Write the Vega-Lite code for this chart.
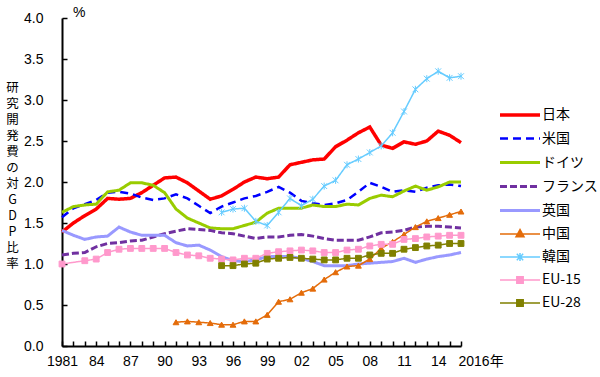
{
"$schema": "https://vega.github.io/schema/vega-lite/v6.json",
"width": 399, "height": 328,
"autosize": {"type": "none"},
"padding": {"left": 62, "top": 18, "right": 139, "bottom": 31},
"background": "white",
"config": {"view": {"stroke": null}, "font": "Liberation Sans"},
"title": {"text": "%", "anchor": "start", "frame": "group", "dx": 11, "dy": 20, "offset": 0, "fontSize": 14, "fontWeight": "normal", "font": "Liberation Sans", "baseline": "alphabetic", "color": "black"},
"datasets": {"rd": [
{"country":"日本","year":1981,"value":1.39},{"country":"日本","year":1982,"value":1.50},{"country":"日本","year":1983,"value":1.59},{"country":"日本","year":1984,"value":1.67},{"country":"日本","year":1985,"value":1.80},{"country":"日本","year":1986,"value":1.79},{"country":"日本","year":1987,"value":1.80},{"country":"日本","year":1988,"value":1.87},{"country":"日本","year":1989,"value":1.96},{"country":"日本","year":1990,"value":2.05},{"country":"日本","year":1991,"value":2.06},{"country":"日本","year":1992,"value":1.99},{"country":"日本","year":1993,"value":1.89},{"country":"日本","year":1994,"value":1.79},{"country":"日本","year":1995,"value":1.83},{"country":"日本","year":1996,"value":1.91},{"country":"日本","year":1997,"value":2.00},{"country":"日本","year":1998,"value":2.06},{"country":"日本","year":1999,"value":2.04},{"country":"日本","year":2000,"value":2.06},{"country":"日本","year":2001,"value":2.21},{"country":"日本","year":2002,"value":2.24},{"country":"日本","year":2003,"value":2.27},{"country":"日本","year":2004,"value":2.28},{"country":"日本","year":2005,"value":2.43},{"country":"日本","year":2006,"value":2.51},{"country":"日本","year":2007,"value":2.60},{"country":"日本","year":2008,"value":2.67},{"country":"日本","year":2009,"value":2.45},{"country":"日本","year":2010,"value":2.41},{"country":"日本","year":2011,"value":2.49},{"country":"日本","year":2012,"value":2.46},{"country":"日本","year":2013,"value":2.50},{"country":"日本","year":2014,"value":2.62},{"country":"日本","year":2015,"value":2.57},{"country":"日本","year":2016,"value":2.48},
{"country":"米国","year":1981,"value":1.57},{"country":"米国","year":1982,"value":1.68},{"country":"米国","year":1983,"value":1.73},{"country":"米国","year":1984,"value":1.78},{"country":"米国","year":1985,"value":1.87},{"country":"米国","year":1986,"value":1.88},{"country":"米国","year":1987,"value":1.86},{"country":"米国","year":1988,"value":1.81},{"country":"米国","year":1989,"value":1.78},{"country":"米国","year":1990,"value":1.80},{"country":"米国","year":1991,"value":1.85},{"country":"米国","year":1992,"value":1.80},{"country":"米国","year":1993,"value":1.71},{"country":"米国","year":1994,"value":1.62},{"country":"米国","year":1995,"value":1.70},{"country":"米国","year":1996,"value":1.75},{"country":"米国","year":1997,"value":1.80},{"country":"米国","year":1998,"value":1.83},{"country":"米国","year":1999,"value":1.88},{"country":"米国","year":2000,"value":1.94},{"country":"米国","year":2001,"value":1.87},{"country":"米国","year":2002,"value":1.77},{"country":"米国","year":2003,"value":1.74},{"country":"米国","year":2004,"value":1.72},{"country":"米国","year":2005,"value":1.74},{"country":"米国","year":2006,"value":1.78},{"country":"米国","year":2007,"value":1.88},{"country":"米国","year":2008,"value":1.99},{"country":"米国","year":2009,"value":1.94},{"country":"米国","year":2010,"value":1.88},{"country":"米国","year":2011,"value":1.90},{"country":"米国","year":2012,"value":1.88},{"country":"米国","year":2013,"value":1.93},{"country":"米国","year":2014,"value":1.96},{"country":"米国","year":2015,"value":1.97},{"country":"米国","year":2016,"value":1.95},
{"country":"ドイツ","year":1981,"value":1.63},{"country":"ドイツ","year":1982,"value":1.70},{"country":"ドイツ","year":1983,"value":1.72},{"country":"ドイツ","year":1984,"value":1.73},{"country":"ドイツ","year":1985,"value":1.88},{"country":"ドイツ","year":1986,"value":1.90},{"country":"ドイツ","year":1987,"value":1.99},{"country":"ドイツ","year":1988,"value":1.99},{"country":"ドイツ","year":1989,"value":1.96},{"country":"ドイツ","year":1990,"value":1.87},{"country":"ドイツ","year":1991,"value":1.67},{"country":"ドイツ","year":1992,"value":1.56},{"country":"ドイツ","year":1993,"value":1.50},{"country":"ドイツ","year":1994,"value":1.44},{"country":"ドイツ","year":1995,"value":1.43},{"country":"ドイツ","year":1996,"value":1.43},{"country":"ドイツ","year":1997,"value":1.47},{"country":"ドイツ","year":1998,"value":1.51},{"country":"ドイツ","year":1999,"value":1.62},{"country":"ドイツ","year":2000,"value":1.68},{"country":"ドイツ","year":2001,"value":1.68},{"country":"ドイツ","year":2002,"value":1.68},{"country":"ドイツ","year":2003,"value":1.72},{"country":"ドイツ","year":2004,"value":1.70},{"country":"ドイツ","year":2005,"value":1.70},{"country":"ドイツ","year":2006,"value":1.73},{"country":"ドイツ","year":2007,"value":1.72},{"country":"ドイツ","year":2008,"value":1.80},{"country":"ドイツ","year":2009,"value":1.84},{"country":"ドイツ","year":2010,"value":1.82},{"country":"ドイツ","year":2011,"value":1.89},{"country":"ドイツ","year":2012,"value":1.95},{"country":"ドイツ","year":2013,"value":1.90},{"country":"ドイツ","year":2014,"value":1.94},{"country":"ドイツ","year":2015,"value":2.00},{"country":"ドイツ","year":2016,"value":2.00},
{"country":"フランス","year":1981,"value":1.11},{"country":"フランス","year":1982,"value":1.13},{"country":"フランス","year":1983,"value":1.14},{"country":"フランス","year":1984,"value":1.21},{"country":"フランス","year":1985,"value":1.25},{"country":"フランス","year":1986,"value":1.26},{"country":"フランス","year":1987,"value":1.28},{"country":"フランス","year":1988,"value":1.29},{"country":"フランス","year":1989,"value":1.33},{"country":"フランス","year":1990,"value":1.37},{"country":"フランス","year":1991,"value":1.40},{"country":"フランス","year":1992,"value":1.43},{"country":"フランス","year":1993,"value":1.42},{"country":"フランス","year":1994,"value":1.41},{"country":"フランス","year":1995,"value":1.38},{"country":"フランス","year":1996,"value":1.37},{"country":"フランス","year":1997,"value":1.34},{"country":"フランス","year":1998,"value":1.31},{"country":"フランス","year":1999,"value":1.33},{"country":"フランス","year":2000,"value":1.33},{"country":"フランス","year":2001,"value":1.35},{"country":"フランス","year":2002,"value":1.36},{"country":"フランス","year":2003,"value":1.34},{"country":"フランス","year":2004,"value":1.31},{"country":"フランス","year":2005,"value":1.29},{"country":"フランス","year":2006,"value":1.29},{"country":"フランス","year":2007,"value":1.29},{"country":"フランス","year":2008,"value":1.33},{"country":"フランス","year":2009,"value":1.38},{"country":"フランス","year":2010,"value":1.39},{"country":"フランス","year":2011,"value":1.41},{"country":"フランス","year":2012,"value":1.45},{"country":"フランス","year":2013,"value":1.46},{"country":"フランス","year":2014,"value":1.46},{"country":"フランス","year":2015,"value":1.45},{"country":"フランス","year":2016,"value":1.44},
{"country":"英国","year":1981,"value":1.41},{"country":"英国","year":1982,"value":1.35},{"country":"英国","year":1983,"value":1.30},{"country":"英国","year":1984,"value":1.33},{"country":"英国","year":1985,"value":1.34},{"country":"英国","year":1986,"value":1.45},{"country":"英国","year":1987,"value":1.39},{"country":"英国","year":1988,"value":1.35},{"country":"英国","year":1989,"value":1.35},{"country":"英国","year":1990,"value":1.35},{"country":"英国","year":1991,"value":1.26},{"country":"英国","year":1992,"value":1.22},{"country":"英国","year":1993,"value":1.23},{"country":"英国","year":1994,"value":1.17},{"country":"英国","year":1995,"value":1.09},{"country":"英国","year":1996,"value":1.04},{"country":"英国","year":1997,"value":1.03},{"country":"英国","year":1998,"value":1.05},{"country":"英国","year":1999,"value":1.09},{"country":"英国","year":2000,"value":1.09},{"country":"英国","year":2001,"value":1.09},{"country":"英国","year":2002,"value":1.07},{"country":"英国","year":2003,"value":1.03},{"country":"英国","year":2004,"value":0.98},{"country":"英国","year":2005,"value":0.98},{"country":"英国","year":2006,"value":0.98},{"country":"英国","year":2007,"value":1.00},{"country":"英国","year":2008,"value":1.01},{"country":"英国","year":2009,"value":1.02},{"country":"英国","year":2010,"value":1.03},{"country":"英国","year":2011,"value":1.07},{"country":"英国","year":2012,"value":1.02},{"country":"英国","year":2013,"value":1.06},{"country":"英国","year":2014,"value":1.09},{"country":"英国","year":2015,"value":1.11},{"country":"英国","year":2016,"value":1.14},
{"country":"中国","year":1991,"value":0.29},{"country":"中国","year":1992,"value":0.30},{"country":"中国","year":1993,"value":0.29},{"country":"中国","year":1994,"value":0.28},{"country":"中国","year":1995,"value":0.26},{"country":"中国","year":1996,"value":0.26},{"country":"中国","year":1997,"value":0.30},{"country":"中国","year":1998,"value":0.30},{"country":"中国","year":1999,"value":0.38},{"country":"中国","year":2000,"value":0.54},{"country":"中国","year":2001,"value":0.57},{"country":"中国","year":2002,"value":0.65},{"country":"中国","year":2003,"value":0.70},{"country":"中国","year":2004,"value":0.81},{"country":"中国","year":2005,"value":0.90},{"country":"中国","year":2006,"value":0.97},{"country":"中国","year":2007,"value":0.98},{"country":"中国","year":2008,"value":1.06},{"country":"中国","year":2009,"value":1.19},{"country":"中国","year":2010,"value":1.27},{"country":"中国","year":2011,"value":1.36},{"country":"中国","year":2012,"value":1.45},{"country":"中国","year":2013,"value":1.52},{"country":"中国","year":2014,"value":1.56},{"country":"中国","year":2015,"value":1.60},{"country":"中国","year":2016,"value":1.64},
{"country":"韓国","year":1995,"value":1.63},{"country":"韓国","year":1996,"value":1.67},{"country":"韓国","year":1997,"value":1.68},{"country":"韓国","year":1998,"value":1.52},{"country":"韓国","year":1999,"value":1.47},{"country":"韓国","year":2000,"value":1.63},{"country":"韓国","year":2001,"value":1.80},{"country":"韓国","year":2002,"value":1.71},{"country":"韓国","year":2003,"value":1.79},{"country":"韓国","year":2004,"value":1.95},{"country":"韓国","year":2005,"value":2.02},{"country":"韓国","year":2006,"value":2.21},{"country":"韓国","year":2007,"value":2.28},{"country":"韓国","year":2008,"value":2.36},{"country":"韓国","year":2009,"value":2.44},{"country":"韓国","year":2010,"value":2.60},{"country":"韓国","year":2011,"value":2.86},{"country":"韓国","year":2012,"value":3.13},{"country":"韓国","year":2013,"value":3.26},{"country":"韓国","year":2014,"value":3.35},{"country":"韓国","year":2015,"value":3.27},{"country":"韓国","year":2016,"value":3.29},
{"country":"EU-15","year":1981,"value":1.00},{"country":"EU-15","year":1983,"value":1.04},{"country":"EU-15","year":1984,"value":1.06},{"country":"EU-15","year":1985,"value":1.14},{"country":"EU-15","year":1986,"value":1.18},{"country":"EU-15","year":1987,"value":1.19},{"country":"EU-15","year":1988,"value":1.19},{"country":"EU-15","year":1989,"value":1.19},{"country":"EU-15","year":1990,"value":1.19},{"country":"EU-15","year":1991,"value":1.14},{"country":"EU-15","year":1992,"value":1.11},{"country":"EU-15","year":1993,"value":1.10},{"country":"EU-15","year":1994,"value":1.07},{"country":"EU-15","year":1995,"value":1.06},{"country":"EU-15","year":1996,"value":1.05},{"country":"EU-15","year":1997,"value":1.07},{"country":"EU-15","year":1998,"value":1.07},{"country":"EU-15","year":1999,"value":1.13},{"country":"EU-15","year":2000,"value":1.15},{"country":"EU-15","year":2001,"value":1.16},{"country":"EU-15","year":2002,"value":1.17},{"country":"EU-15","year":2003,"value":1.16},{"country":"EU-15","year":2004,"value":1.14},{"country":"EU-15","year":2005,"value":1.14},{"country":"EU-15","year":2006,"value":1.17},{"country":"EU-15","year":2007,"value":1.18},{"country":"EU-15","year":2008,"value":1.22},{"country":"EU-15","year":2009,"value":1.24},{"country":"EU-15","year":2010,"value":1.24},{"country":"EU-15","year":2011,"value":1.30},{"country":"EU-15","year":2012,"value":1.31},{"country":"EU-15","year":2013,"value":1.33},{"country":"EU-15","year":2014,"value":1.34},{"country":"EU-15","year":2015,"value":1.35},{"country":"EU-15","year":2016,"value":1.35},
{"country":"EU-28","year":1995,"value":0.98},{"country":"EU-28","year":1996,"value":0.98},{"country":"EU-28","year":1997,"value":1.00},{"country":"EU-28","year":1998,"value":1.01},{"country":"EU-28","year":1999,"value":1.06},{"country":"EU-28","year":2000,"value":1.07},{"country":"EU-28","year":2001,"value":1.08},{"country":"EU-28","year":2002,"value":1.07},{"country":"EU-28","year":2003,"value":1.06},{"country":"EU-28","year":2004,"value":1.05},{"country":"EU-28","year":2005,"value":1.05},{"country":"EU-28","year":2006,"value":1.07},{"country":"EU-28","year":2007,"value":1.07},{"country":"EU-28","year":2008,"value":1.11},{"country":"EU-28","year":2009,"value":1.13},{"country":"EU-28","year":2010,"value":1.13},{"country":"EU-28","year":2011,"value":1.18},{"country":"EU-28","year":2012,"value":1.20},{"country":"EU-28","year":2013,"value":1.22},{"country":"EU-28","year":2014,"value":1.23},{"country":"EU-28","year":2015,"value":1.25},{"country":"EU-28","year":2016,"value":1.25}
]},
"data": {"name": "rd"},
"encoding": {
  "x": {"field": "year", "type": "quantitative",
    "scale": {"domain": [1981, 2016], "nice": false, "zero": false},
    "axis": {"title": null, "grid": false,
      "values": [1981,1982,1983,1984,1985,1986,1987,1988,1989,1990,1991,1992,1993,1994,1995,1996,1997,1998,1999,2000,2001,2002,2003,2004,2005,2006,2007,2008,2009,2010,2011,2012,2013,2014,2015,2016],
      "labelExpr": "datum.value == 1981 ? '1981' : datum.value == 2016 ? '2016年' : (datum.value - 1981) % 3 == 0 ? slice(toString(datum.value), 2) : ''",
      "labelOverlap": false, "labelFlush": false, "labelBound": false,
      "labelAlign": {"condition": {"test": "datum.value == 2016", "value": "left"}, "value": "center"},
      "labelOffset": {"condition": {"test": "datum.value == 2016", "value": -3}, "value": 0},
      "labelFont": "Liberation Sans, Noto Sans CJK JP", "labelFontSize": 14, "labelColor": "black",
      "labelPadding": 13, "tickSize": -5, "tickColor": "black", "tickWidth": 1.5,
      "domainColor": "black", "domainWidth": 2}
  },
  "y": {"field": "value", "type": "quantitative",
    "scale": {"domain": [0, 4], "nice": false, "zero": true},
    "axis": {"grid": false,
      "values": [0, 0.5, 1, 1.5, 2, 2.5, 3, 3.5, 4], "format": ".1f",
      "labelFont": "Liberation Sans", "labelFontSize": 14, "labelColor": "black",
      "labelPadding": 24, "tickSize": -5, "tickColor": "black", "tickWidth": 1.5,
      "domainColor": "black", "domainWidth": 2,
      "title": ["研","究","開","発","費","の","対","G","D","P","比","率"],
      "titleAngle": 0, "titleFont": "Noto Sans CJK JP", "titleFontSize": 12.5, "titleFontWeight": "normal",
      "titleColor": "black", "titleLineHeight": 16, "titleX": -50, "titleY": 63,
      "titleAlign": "center", "titleBaseline": "top"}
  },
  "color": {"field": "country", "type": "nominal",
    "scale": {"domain": ["日本","米国","ドイツ","フランス","英国","中国","韓国","EU-15","EU-28"],
              "range": ["#FF0000","#0000FF","#99CC00","#7030A0","#9999FF","#E46C0A","#66CCFF","#FF99CC","#808000"]},
    "legend": {"title": null, "orient": "none", "legendX": 448, "legendY": 87,
      "symbolSize": 256, "symbolType": "stroke",
      "labelFont": "Noto Sans CJK JP", "labelFontSize": 14, "labelColor": "black",
      "labelOffset": 12, "rowPadding": 7, "padding": 0,
      "encode": {"symbols": {"update": {
        "shape": {"signal": "datum.value === '中国' ? 'M-2.5,0H2.5M0,-0.55L0.5,0.35L-0.5,0.35Z' : datum.value === '韓国' ? 'M-2.5,0H2.5M-0.4,-0.4L0.4,0.4M-0.4,0.4L0.4,-0.4M0,-0.5L0,0.5' : (datum.value === 'EU-15' || datum.value === 'EU-28') ? 'M-2.5,0H2.5M-0.4,-0.4H0.4V0.4H-0.4Z' : 'M-2.5,0H2.5'"},
        "fill": {"signal": "scale('color', datum.value)"},
        "opacity": {"value": 1},
        "strokeWidth": {"signal": "indexof(['中国','韓国','EU-15','EU-28'], datum.value) >= 0 ? 1.5 : 3"}
      }}}}
  }
},
"layer": [
  {"mark": {"type": "line"},
   "encoding": {
     "strokeDash": {"field": "country", "type": "nominal",
       "scale": {"domain": ["日本","米国","ドイツ","フランス","英国","中国","韓国","EU-15","EU-28"],
                 "range": [[1,0],[8,5],[1,0],[7,3],[1,0],[1,0],[1,0],[1,0],[1,0]]}},
     "strokeWidth": {"field": "country", "type": "nominal",
       "scale": {"type": "ordinal", "domain": ["日本","米国","ドイツ","フランス","英国","中国","韓国","EU-15","EU-28"],
                 "range": [3.5, 2.5, 3, 3, 3, 1.5, 1.5, 1.5, 1.5]}, "legend": null}
   }},
  {"transform": [{"filter": {"field": "country", "oneOf": ["中国","韓国","EU-15","EU-28"]}}],
   "mark": {"type": "point", "filled": true, "opacity": 1, "strokeWidth": 1, "size": 34},
   "encoding": {
     "shape": {"field": "country", "type": "nominal",
       "scale": {"domain": ["中国","韓国","EU-15","EU-28"],
                 "range": ["triangle-up", "M-1,-1L1,1M-1,1L1,-1M0,-1.2L0,1.2", "square", "square"]}, "legend": null},
     "stroke": {"field": "country", "type": "nominal",
       "scale": {"domain": ["中国","韓国","EU-15","EU-28"],
                 "range": ["#E46C0A","#66CCFF","#FF99CC","#808000"]}, "legend": null}
   }}
]
}
